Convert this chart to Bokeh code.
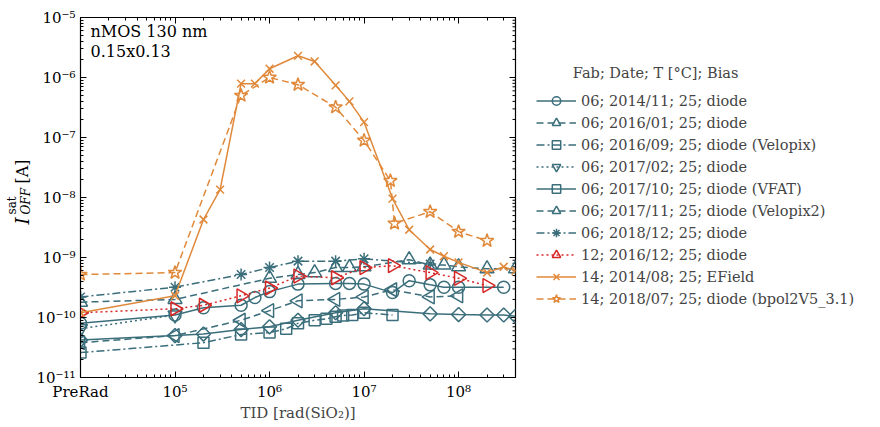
import numpy as np
from bokeh.plotting import figure
from bokeh.layouts import row
from bokeh.models import (LogAxis, FixedTicker, Legend, LegendItem, Label, Range1d,
                          BasicTickFormatter)
from bokeh.embed import file_html
from bokeh.resources import INLINE

# ---------------- data ----------------
x_circle = [1e4, 1e5, 2e5, 5e5, 7e5, 1e6, 2e6, 5e6, 7e6, 1e7, 2e7, 3e7, 5e7, 7e7, 1e8, 3e8]
y_circle = [8e-11, 1.1e-10, 1.45e-10, 1.6e-10, 2.15e-10, 2.7e-10, 3.6e-10, 3.7e-10, 3.7e-10, 3.6e-10,
            2.6e-10, 4.1e-10, 3.5e-10, 3.2e-10, 3.2e-10, 3.2e-10]

x_triup = [1e4, 1e5, 1e6, 2e6, 3e6, 5e6, 7e6, 1e7, 3e7, 5e7, 7e7, 1e8, 2e8, 4e8]
y_triup = [1.8e-10, 2.0e-10, 4.5e-10, 5.2e-10, 5.6e-10, 6.8e-10, 6.8e-10, 7e-10, 9.2e-10, 7.5e-10,
           7.5e-10, 7e-10, 6.5e-10, 6.5e-10]

x_square = [1e4, 2e5, 5e5, 1e6, 1.5e6, 2e6, 3e6, 4e6, 5e6, 6e6, 7.5e6, 1e7, 2e7]
y_square = [2.6e-11, 3.8e-11, 5.2e-11, 5.6e-11, 6.5e-11, 8e-11, 9e-11, 9.5e-11, 1.03e-10, 1.08e-10,
            1.1e-10, 1.2e-10, 1.1e-10]

x_tridown = [1e4, 1e5]
y_tridown = [6.5e-11, 1.1e-10]

x_diamond = [1e4, 1e5, 2e5, 5e5, 1e6, 2e6, 5e6, 1e7, 5e7, 1e8, 2e8, 3e8, 4e8]
y_diamond = [4.2e-11, 5e-11, 5.3e-11, 6.3e-11, 7e-11, 9e-11, 1.2e-10, 1.4e-10, 1.15e-10, 1.12e-10,
             1.1e-10, 1.1e-10, 1.05e-10]

x_trileft = [1e4, 1e5, 5e5, 1e6, 2e6, 5e6, 1e7, 2e7, 5e7, 1e8]
y_trileft = [3.8e-11, 5e-11, 9e-11, 1.3e-10, 1.9e-10, 2e-10, 2.2e-10, 2.9e-10, 2.2e-10, 2.3e-10]

x_aster = [1e4, 1e5, 5e5, 1e6, 2e6, 5e6, 1e7, 5e7]
y_aster = [2.2e-10, 3.2e-10, 5.2e-10, 6.8e-10, 8.7e-10, 8.7e-10, 9.5e-10, 7.8e-10]

x_red = [1e4, 1e5, 2e5, 5e5, 1e6, 2e6, 5e6, 1e7, 2e7, 5e7, 1e8, 2e8]
y_red = [1.2e-10, 1.4e-10, 1.6e-10, 2.3e-10, 3.1e-10, 4.9e-10, 4.6e-10, 6.8e-10, 7.3e-10, 5.6e-10,
         4.5e-10, 3.4e-10]

x_efield = [1e4, 1e5, 2e5, 3e5, 5e5, 7e5, 1e6, 2e6, 3e6, 5e6, 7e6, 1e7, 2e7, 3e7, 5e7, 7e7, 1e8,
            2e8, 3e8, 4e8]
y_efield = [1.2e-10, 2.3e-10, 4.3e-9, 1.35e-8, 7.9e-7, 7.9e-7, 1.4e-6, 2.3e-6, 1.85e-6, 7.4e-7, 4e-7,
            1.8e-7, 9.6e-9, 2.9e-9, 1.36e-9, 1.05e-9, 8.3e-10, 5.6e-10, 7e-10, 6e-10]

x_star = [1e4, 1e5, 5e5, 1e6, 2e6, 5e6, 1e7, 1.9e7, 2.1e7, 5e7, 1e8, 2e8]
y_star = [5.2e-10, 5.6e-10, 5e-7, 1.0e-6, 7.6e-7, 3.2e-7, 8.9e-8, 1.9e-8, 3.7e-9, 5.8e-9, 2.7e-9, 1.9e-9]

labels = ["06; 2014/11; 25; diode", "06; 2016/01; 25; diode", "06; 2016/09; 25; diode (Velopix)",
          "06; 2017/02; 25; diode", "06; 2017/10; 25; diode (VFAT)", "06; 2017/11; 25; diode (Velopix2)",
          "06; 2018/12; 25; diode", "12; 2016/12; 25; diode", "14; 2014/08; 25; EField",
          "14; 2018/07; 25; diode (bpol2V5_3.1)"]
legend_title = "Fab; Date; T [°C]; Bias"

x_range_end = 4e8
x_tick_values = [1e4, 1e5, 1e6, 1e7, 1e8]
x_tick_labels = ["PreRad", "10⁵", "10⁶", "10⁷", "10⁸"]
y_tick_values = [1e-11, 1e-10, 1e-9, 1e-8, 1e-7, 1e-6, 1e-5]
y_tick_labels = ["10⁻¹¹", "10⁻¹⁰", "10⁻⁹", "10⁻⁸", "10⁻⁷", "10⁻⁶", "10⁻⁵"]

# ---------------- styles ----------------
TEAL = "#3B6E7B"
ORANGE = "#E0893A"
RED = "#D62728"
FONT = "DejaVu Serif"

DASH = "7 4"
DASHDOT = "8 3 2 3"
DOT = "2 3"

styles = [
    (x_circle, y_circle, TEAL, "solid", "circle", 0.0, 12),
    (x_triup, y_triup, TEAL, DASH, "triangle", 0.0, 14),
    (x_square, y_square, TEAL, DASHDOT, "square", 0.0, 11),
    (x_tridown, y_tridown, TEAL, DOT, "inverted_triangle", 0.0, 14),
    (x_diamond, y_diamond, TEAL, "solid", "square", np.pi / 4, 10),
    (x_trileft, y_trileft, TEAL, DASH, "triangle", np.pi / 2, 14),
    (x_aster, y_aster, TEAL, DASHDOT, "asterisk", 0.0, 12),
    (x_red, y_red, RED, DOT, "triangle", -np.pi / 2, 14),
    (x_efield, y_efield, ORANGE, "solid", "x", 0.0, 11),
    (x_star, y_star, ORANGE, DASH, "star", 0.0, 14),
]

YLAB_W = 33
FIG_H = 419
FRAME_BOTTOM = 377  # page y of the frame bottom (frame top 17 + 360)

p = figure(x_axis_type="log", y_axis_type="log",
           x_range=Range1d(1e4, x_range_end), y_range=Range1d(1e-11, 1e-5),
           frame_width=435, frame_height=360,
           output_backend="svg", toolbar_location=None,
           min_border_left=80 - YLAB_W, min_border_top=17, min_border_bottom=5,
           min_border_right=10)
p.background_fill_color = "white"
p.border_fill_color = "white"
p.outline_line_color = "black"
p.outline_line_width = 1.2
p.grid.visible = False

minor_x = [m * 10 ** e for e in range(4, 9) for m in range(2, 10)]
minor_y = [m * 10.0 ** e for e in range(-11, -5) for m in range(2, 10)]
xt = FixedTicker(ticks=x_tick_values, minor_ticks=minor_x)
yt = FixedTicker(ticks=y_tick_values, minor_ticks=minor_y)


def style_axis(ax, ticker, show_labels):
    ax.ticker = ticker
    ax.major_tick_in = 6
    ax.major_tick_out = 0
    ax.minor_tick_in = 3
    ax.minor_tick_out = 0
    ax.axis_line_color = "black"
    ax.major_tick_line_color = "black"
    ax.minor_tick_line_color = "black"
    ax.major_label_text_font = FONT
    ax.major_label_text_font_size = "15px" if show_labels else "1px"
    ax.major_label_text_color = "black"
    if not show_labels:
        ax.formatter = BasicTickFormatter()
        ax.major_label_text_alpha = 0
        ax.major_label_standoff = 0


xa = p.xaxis[0]
ya = p.yaxis[0]
style_axis(xa, xt, True)
style_axis(ya, yt, True)
xa.major_label_overrides = dict(zip(x_tick_values, x_tick_labels))
ya.major_label_overrides = dict(zip(y_tick_values, y_tick_labels))
xa.major_label_standoff = 5
ya.major_label_standoff = 5
xa.axis_label = "TID [rad(SiO₂)]"
xa.axis_label_text_font = FONT
xa.axis_label_text_font_style = "normal"
xa.axis_label_text_font_size = "15px"
xa.axis_label_standoff = 0

top_axis = LogAxis()
style_axis(top_axis, xt, False)
p.add_layout(top_axis, "above")

# mirrored inward ticks on the right frame edge (half of each dash is clipped away)
p.scatter([x_range_end] * len(y_tick_values), y_tick_values, marker="dash", size=12,
          line_color="black", line_width=1)
p.scatter([x_range_end] * len(minor_y), minor_y, marker="dash", size=6,
          line_color="black", line_width=1)

items = []
for (xs, ys, col, dash, mk, ang, sz), lab in zip(styles, labels):
    rl = p.line(xs, ys, line_color=col, line_width=1.5, line_dash=dash)
    rm = p.scatter(xs, ys, marker=mk, size=sz, angle=ang, line_color=col, fill_color=None,
                   line_width=1.5)
    items.append(LegendItem(label=lab, renderers=[rl, rm]))

legend = Legend(items=items, location=(21, 68))
legend.title = "\u00a0" * 8 + legend_title
legend.title_text_font = FONT
legend.title_text_font_style = "normal"
legend.title_text_font_size = "14.5px"
legend.title_standoff = 9
legend.label_text_font = FONT
legend.label_text_font_size = "14.5px"
legend.glyph_width = 40
legend.glyph_height = 21
legend.label_height = 21
legend.spacing = 1
legend.label_standoff = 5
legend.padding = 4
legend.margin = 16
legend.border_line_color = None
legend.background_fill_alpha = 0
p.add_layout(legend, "right")

# annotation texts
p.add_layout(Label(x=10, y=346, x_units="screen", y_units="screen", text="nMOS 130 nm",
                   text_font=FONT, text_font_size="16px", text_baseline="alphabetic",
                   text_color="black"))
p.add_layout(Label(x=10, y=326, x_units="screen", y_units="screen", text="0.15x0.13",
                   text_font=FONT, text_font_size="16px", text_baseline="alphabetic",
                   text_color="black"))

# separate narrow figure holding the y-axis label
fy = figure(width=YLAB_W, height=FIG_H, x_range=(0, 1), y_range=(0, 1),
            output_backend="svg", toolbar_location=None,
            x_axis_location=None, y_axis_location=None,
            min_border=0, min_border_left=0, min_border_right=0,
            min_border_top=0, min_border_bottom=0)
fy.outline_line_color = None
fy.grid.visible = False
fy.background_fill_color = "white"
fy.border_fill_color = "white"

ylab = [
    ("I", 22, 229, "18px", "italic"),
    ("OFF", 25, 219, "12px", "italic"),
    ("sat", 11, 219, "12px", "normal"),
    ("[A]", 22, 188, "16px", "normal"),
]
for t, px, py, fs, fst in ylab:
    fy.add_layout(Label(x=px, y=FRAME_BOTTOM - py, x_units="screen", y_units="screen", text=t,
                        angle=np.pi / 2, text_font=FONT, text_font_size=fs, text_font_style=fst,
                        text_baseline="alphabetic", text_align="left", text_color="black"))

layout = row(fy, p, spacing=0)
open("out.html", "w").write(file_html(layout, INLINE))
